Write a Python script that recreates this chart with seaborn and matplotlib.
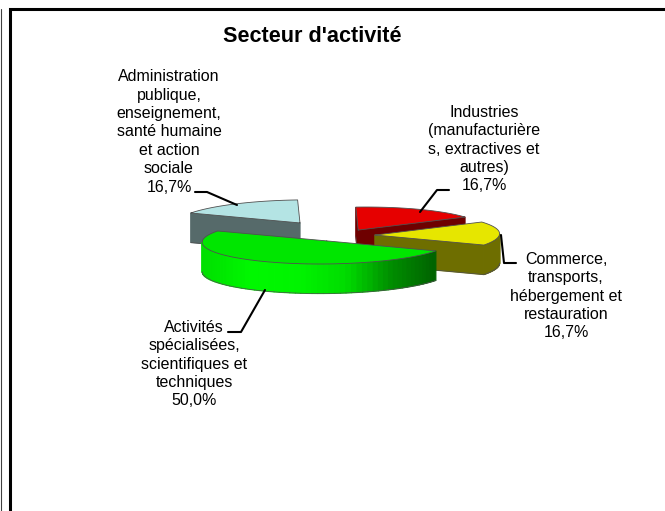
import matplotlib
matplotlib.use("Agg")
import matplotlib.pyplot as plt
import numpy as np
import seaborn as sns

# %% Data
categories = [
    "Commerce,\ntransports,\nhébergement et\nrestauration",
    "Industries\n(manufacturière\ns, extractives et\nautres)",
    "Administration\npublique,\nenseignement,\nsanté humaine\net action\nsociale",
    "Activités\nspécialisées,\nscientifiques et\ntechniques",
]
values = [16.7, 16.7, 16.7, 50.0]
explode = [0.26, 0.26, 0.66, 0.26]
top_colors = ["#e6e600", "#e60000", "#b4e4e4", "#00e600"]
side_colors = ["#6e6e00", "#6e0000", "#566a6a", None]
draw_order = [2, 1, 0, 3]

# %% Projection of the flat pie onto the picture, in pixels
CENTER = np.array([342.5, 235.5])
AXIS_A = np.array([109.0, 10.0])
AXIS_B = np.array([60.5, -20.8])
DEPTH = 29.5

label_xy = [(566, 296), (484, 149), (169, 132), (194, 364)]
leaders = [
    [(501, 235), (504, 263), (516, 263)],
    [(420, 212), (437, 190), (449, 190)],
    [(237, 205), (207, 192), (195, 192)],
    [(265, 290), (241, 332), (228, 332)],
]

sns.set_theme(style="white")
plt.rcParams["font.family"] = ["Liberation Sans", "DejaVu Sans"]

fig = plt.figure(figsize=(6.65, 5.11), dpi=100)
ax = fig.add_axes([0, 0, 1, 1])
ax.set_xlim(0, 665)
ax.set_ylim(511, 0)
ax.axis("off")

# frame of the pasted chart
ax.plot([0.5, 0.5], [9, 511], color="#404040", lw=0.8)
ax.plot([10, 10, 665], [511, 9, 9], color="black", lw=2.2, solid_joinstyle="miter")


def project(angles):
    return np.outer(np.cos(angles), AXIS_A) + np.outer(np.sin(angles), AXIS_B)


green_shades = sns.blend_palette(["#00e000", "#00f800", "#00f400", "#00dc00", "#008c00", "#006000"], 101)

shares = np.array(values) / sum(values) * 2 * np.pi
starts = np.concatenate([[0], np.cumsum(shares)[:-1]])

# each slice gets its own zorder, lines would float over later fills otherwise
for layer, i in enumerate(draw_order):
    z_side = 3 + layer * 3
    angles = np.linspace(starts[i], starts[i] + shares[i], 70)
    mid = starts[i] + shares[i] / 2
    apex = CENTER + explode[i] * project(np.array([mid]))[0]
    arc = apex + project(angles)
    outline = np.vstack([apex, arc, apex])
    x_left, x_right = arc[:, 0].min(), arc[:, 0].max()

    # going round with the angle, a wall faces the viewer when x grows
    for k in range(len(outline) - 1):
        p, q = outline[k], outline[k + 1]
        if q[0] <= p[0]:
            continue
        quad = np.array([p, q, q + [0, DEPTH], p + [0, DEPTH]])
        if side_colors[i] is None:
            t = (p[0] - x_left) / (x_right - x_left)
            color = green_shades[int(np.clip(t, 0, 1) * 100)]
        else:
            color = side_colors[i]
        ax.fill(quad[:, 0], quad[:, 1], color=color, lw=0.9, zorder=z_side)
        ax.plot([p[0], q[0]], [p[1] + DEPTH, q[1] + DEPTH], color="#505050", lw=0.5, zorder=z_side + 1)

    ax.fill(outline[:, 0], outline[:, 1], color=top_colors[i], lw=0, zorder=z_side + 2)
    ax.plot(outline[:, 0], outline[:, 1], color="#505050", lw=0.6, zorder=z_side + 2)

for line in leaders:
    xs, ys = zip(*line)
    ax.plot(xs, ys, color="black", lw=1.5, zorder=20)

for i, name in enumerate(categories):
    pct = f"{values[i]:.1f}".replace(".", ",") + "%"
    ax.text(label_xy[i][0], label_xy[i][1], name + "\n" + pct, ha="center", va="center",
            fontsize=11.5, linespacing=1.29, color="black")

ax.text(312, 36, "Secteur d'activité", ha="center", va="center", fontsize=15.6, fontweight="bold", color="black")

fig.savefig("out.png", dpi=100)
